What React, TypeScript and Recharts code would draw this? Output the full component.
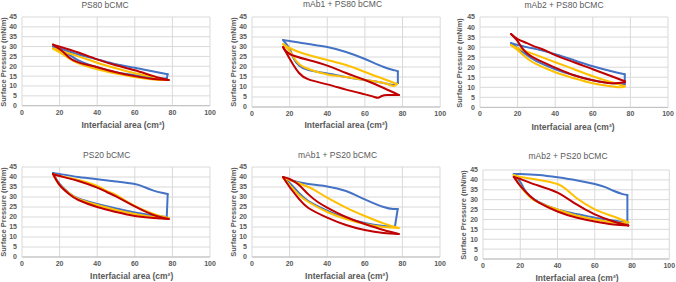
import React from 'react';
import { LineChart, Line, XAxis, YAxis, CartesianGrid } from 'recharts';

type Pt = [number, number];

// axis ticks
const xTicks = [0, 20, 40, 60, 80, 100];
const yTicks = [0, 5, 10, 15, 20, 25, 30, 35, 40, 45];

const titles = [
  'PS80 bCMC',
  'mAb1 + PS80 bCMC',
  'mAb2 + PS80 bCMC',
  'PS20 bCMC',
  'mAb1 + PS20 bCMC',
  'mAb2 + PS20 bCMC',
];

// [area, pressure]; each loop = [compression branch (left->right), expansion branch (right->left)]
const ps80Blue: Pt[][] = [
  [[16.5, 30], [25, 27.5], [30, 26], [40, 23.5], [50, 21], [60, 19.2], [70, 17.3], [77.5, 16]],
  [[77, 13.8], [70, 14], [60, 15.5], [50, 17], [40, 19.5], [30, 23], [24, 26.5], [16.5, 30]],
];
const ps80Yellow: Pt[][] = [
  [[16.5, 29], [20, 28], [30, 25], [40, 21.8], [50, 19], [60, 16.5], [70, 14.5], [77, 13]],
  [[77, 13], [70, 13.3], [60, 14.5], [50, 16.3], [40, 18.5], [30, 21.5], [25, 24], [20, 27], [16.5, 29]],
];
const ps80Red: Pt[][] = [
  [[16.5, 31], [25, 28.5], [30, 27], [40, 23.5], [50, 20.5], [60, 18], [70, 15], [78, 13]],
  [[78, 13], [70, 13.5], [60, 15], [50, 17], [40, 19.5], [30, 22], [25, 24.5], [21, 28], [16.5, 31]],
];

const mab1Ps80Blue: Pt[][] = [
  [[16.5, 33.5], [20, 33], [30, 31.5], [40, 30], [50, 27.5], [60, 24], [70, 20], [76, 18.3], [77.5, 17.8]],
  [[77.5, 12], [75, 11], [70, 12], [60, 13.5], [50, 15], [40, 16.8], [30, 18.5], [25, 20.8], [22, 24.5], [20, 29], [16.5, 33.5]],
];
const mab1Ps80Yellow: Pt[][] = [
  [[16.5, 31.5], [20, 29.5], [25, 27.5], [30, 26], [40, 23.5], [50, 21], [60, 17.5], [70, 14], [77, 11.5]],
  [[77, 11.5], [75, 10.5], [70, 12], [60, 13.5], [50, 15], [40, 16.2], [30, 19], [25, 21.5], [22, 25], [20, 28], [16.5, 31.5]],
];
const mab1Ps80Red: Pt[][] = [
  [[16.5, 30], [20, 26.5], [30, 23.5], [40, 20.7], [50, 17], [60, 13.5], [70, 9.5], [78, 6]],
  [[78, 6], [72, 6], [69, 5.5], [67, 4.6], [65, 5], [60, 6.3], [50, 8.7], [40, 11.3], [30, 13.8], [25, 17], [22, 21], [19.5, 25], [16.5, 30]],
];

const mab2Ps80Blue: Pt[][] = [
  [[16.5, 32], [25, 30], [30, 29], [40, 26.5], [50, 23.5], [60, 20.5], [70, 18], [77, 16.5]],
  [[77, 11.5], [70, 12], [60, 13.5], [50, 16], [40, 19], [30, 23], [25, 26], [20, 29.5], [16.5, 32]],
];
const mab2Ps80Yellow: Pt[][] = [
  [[16.5, 31], [20, 29.5], [30, 26], [40, 22.5], [50, 19], [60, 15.5], [70, 12.5], [77, 10.5]],
  [[77, 10.5], [75, 10], [70, 10.5], [60, 12], [50, 14.5], [40, 17.5], [30, 21.5], [25, 24.5], [20, 28.5], [16.5, 31]],
];
const mab2Ps80Red: Pt[][] = [
  [[16.5, 36.5], [20, 34], [25, 32], [30, 30], [35, 28.3], [40, 26], [50, 22.5], [60, 19], [70, 15.5], [77, 13]],
  [[77, 12.5], [70, 12], [60, 13.5], [50, 16], [40, 19.8], [30, 24], [25, 27], [22, 30], [20, 33], [16.5, 36.5]],
];

const ps20Blue: Pt[][] = [
  [[16.5, 42], [20, 41.5], [30, 40], [40, 38.9], [50, 37.8], [60, 36.5], [65, 35], [70, 33.2], [75, 32], [77.5, 31.5]],
  [[77, 20], [70, 20.8], [60, 22.3], [50, 24.3], [40, 26.5], [30, 29.3], [25, 32], [20, 36.5], [16.5, 42]],
];
const ps20Yellow: Pt[][] = [
  [[16.5, 41.5], [20, 40.5], [30, 38.5], [40, 35.5], [45, 33], [50, 31], [60, 25.5], [70, 21.5], [78, 19.5]],
  [[78, 19.5], [70, 20], [60, 21.5], [50, 23.5], [40, 26], [30, 29], [25, 32], [20, 36], [16.5, 41.5]],
];
const ps20Red: Pt[][] = [
  [[16.5, 41.5], [20, 40.5], [30, 38], [40, 34.7], [45, 32.5], [50, 30.3], [60, 25.3], [70, 21], [78, 19]],
  [[78, 19], [70, 19.5], [60, 20.5], [50, 22.5], [40, 25], [30, 28.5], [25, 31.5], [20, 36], [16.5, 41.5]],
];

const mab1Ps20Blue: Pt[][] = [
  [[16.5, 40], [20, 38.5], [30, 36.5], [40, 35.3], [50, 33], [60, 28.8], [70, 25], [75, 24], [77.5, 24]],
  [[76, 15], [70, 15.5], [60, 17], [50, 19.5], [40, 23.2], [30, 28], [25, 32], [20, 37], [16.5, 40]],
];
const mab1Ps20Yellow: Pt[][] = [
  [[16.5, 39.5], [20, 38.5], [30, 35], [35, 32.5], [40, 29.7], [50, 24.7], [60, 20.5], [70, 16.8], [78, 14.5]],
  [[78, 14.5], [70, 15], [60, 16.5], [50, 19], [40, 22.5], [30, 27.5], [25, 31], [20, 36], [16.5, 39.5]],
];
const mab1Ps20Red: Pt[][] = [
  [[16.5, 40], [20, 39], [25, 36], [30, 31.3], [35, 27.5], [40, 24.7], [50, 20], [60, 16.5], [70, 13.5], [78, 11.5]],
  [[78, 11.5], [70, 12], [60, 13.5], [50, 16], [40, 19.7], [30, 24.5], [25, 29], [20, 35], [16.5, 40]],
];

const mab2Ps20Blue: Pt[][] = [
  [[16.5, 43], [20, 43], [30, 42.5], [40, 41.3], [50, 39.8], [60, 37.9], [66, 36.2], [70, 34.5], [75, 32.8], [77.5, 32.4]],
  [[77.5, 18.3], [70, 19.5], [60, 20.9], [50, 22.8], [40, 25.1], [30, 28.8], [25, 32], [22, 35.5], [20, 39], [16.5, 43]],
];
const mab2Ps20Yellow: Pt[][] = [
  [[16.5, 42.5], [20, 41.5], [30, 40], [40, 37.9], [45, 35], [50, 31], [60, 25.1], [70, 21.5], [78, 18.5]],
  [[78, 18.5], [70, 18.5], [60, 20], [50, 22], [40, 25], [30, 28.5], [25, 31.5], [20, 37], [16.5, 42.5]],
];
const mab2Ps20Red: Pt[][] = [
  [[16.5, 41.5], [20, 40.5], [30, 37], [40, 33.6], [50, 27.7], [60, 22.6], [70, 19], [78, 17]],
  [[78, 17], [70, 17.5], [60, 19], [50, 21], [40, 24], [30, 28.5], [25, 32], [20, 37], [16.5, 41.5]],
];

const panelSeries: Pt[][][][] = [
  [ps80Blue, ps80Yellow, ps80Red],
  [mab1Ps80Blue, mab1Ps80Yellow, mab1Ps80Red],
  [mab2Ps80Blue, mab2Ps80Yellow, mab2Ps80Red],
  [ps20Blue, ps20Yellow, ps20Red],
  [mab1Ps20Blue, mab1Ps20Yellow, mab1Ps20Red],
  [mab2Ps20Blue, mab2Ps20Yellow, mab2Ps20Red],
];

const COLORS = ['#4472C4', '#FFC000', '#C00000'];
const FONT = '"Liberation Sans", Arial, sans-serif';

// plot-area boxes in page pixels, plus title / axis-label anchors
const layout = [
  { x0: 21.7, x1: 209.7, y0: 17.3, y1: 106, tx: 105, ty: 5, ylx: 4, xlx: 123, xly: 125 },
  { x0: 252.3, x1: 440.5, y0: 16.5, y1: 106.5, tx: 342.5, ty: 4, ylx: 234, xlx: 346, xly: 125 },
  { x0: 480, x1: 668, y0: 17.3, y1: 107.7, tx: 564, ty: 5, ylx: 459.5, xlx: 573, xly: 127 },
  { x0: 21.7, x1: 209.7, y0: 167, y1: 257, tx: 106.7, ty: 155, ylx: 4, xlx: 131.7, xly: 276 },
  { x0: 252, x1: 440, y0: 167, y1: 257, tx: 337.5, ty: 155, ylx: 234, xlx: 346.7, xly: 276 },
  { x0: 482.7, x1: 669, y0: 170, y1: 259, tx: 568, ty: 156, ylx: 464, xlx: 577, xly: 277.5 },
];

const YW = 30;
const XH = 14;
const MT = 4;
const MR = 7;

const toRows = (pts: Pt[]) => pts.map(([x, y]) => ({ x, y }));

function Panel({ idx }: { idx: number }) {
  const L = layout[idx];
  const series = panelSeries[idx];
  const w = L.x1 - L.x0 + YW + MR;
  const h = L.y1 - L.y0 + MT + XH;
  const tick = { fontSize: 7, fill: '#595959', fontWeight: 700, fontFamily: FONT };

  // split each loop into smooth branches plus a straight turn-around segment
  const segs: { key: string; rows: { x: number; y: number }[]; color: string; curve: 'natural' | 'linear' }[] = [];
  series.forEach(([up, down], i) => {
    segs.push({ key: `${i}u`, rows: toRows(up), color: COLORS[i], curve: 'natural' });
    segs.push({ key: `${i}t`, rows: toRows([up[up.length - 1], down[0]]), color: COLORS[i], curve: 'linear' });
    segs.push({ key: `${i}d`, rows: toRows(down), color: COLORS[i], curve: 'natural' });
  });

  return (
    <>
      <div
        style={{
          position: 'absolute', left: L.tx - 80, top: L.ty - 6, width: 160, textAlign: 'center',
          fontSize: 8.5, lineHeight: '12px', color: '#595959', fontFamily: FONT, whiteSpace: 'nowrap',
        }}
      >
        {titles[idx]}
      </div>
      <div style={{ position: 'absolute', left: L.x0 - YW, top: L.y0 - MT }}>
        <LineChart width={w} height={h} margin={{ top: MT, right: MR, bottom: 0, left: 0 }} style={{ overflow: 'visible' }}>
          <CartesianGrid stroke="#d9d9d9" strokeWidth={1} />
          <XAxis
            type="number"
            dataKey="x"
            domain={[0, 100]}
            ticks={xTicks}
            interval={0}
            height={XH}
            tick={tick}
            tickLine={false}
            tickSize={2}
            tickMargin={2}
            stroke="#bfbfbf"
          />
          <YAxis
            type="number"
            dataKey="y"
            domain={[0, 45]}
            ticks={yTicks}
            interval={0}
            width={YW}
            tick={tick}
            tickLine={false}
            axisLine={false}
            tickSize={3}
            tickMargin={2}
          />
          {segs.map((s) => (
            <Line
              key={s.key}
              data={s.rows}
              dataKey="y"
              type={s.curve}
              stroke={s.color}
              strokeWidth={2}
              strokeLinejoin="round"
              strokeLinecap="round"
              dot={false}
              activeDot={false}
              isAnimationActive={false}
            />
          ))}
        </LineChart>
      </div>
      <div
        style={{
          position: 'absolute', left: L.ylx - 60, top: (L.y0 + L.y1) / 2 - 5, width: 120, height: 10,
          transform: 'rotate(-90deg)', transformOrigin: '60px 5px', textAlign: 'center',
          fontSize: 7.5, lineHeight: '10px', fontWeight: 700, color: '#595959', fontFamily: FONT, whiteSpace: 'nowrap',
        }}
      >
        Surface Pressure (mN/m)
      </div>
      <div
        style={{
          position: 'absolute', left: L.xlx - 70, top: L.xly - 6, width: 140, textAlign: 'center',
          fontSize: 8.5, lineHeight: '12px', fontWeight: 700, color: '#595959', fontFamily: FONT, whiteSpace: 'nowrap',
        }}
      >
        Interfacial area (cm²)
      </div>
    </>
  );
}

export default function App() {
  return (
    <div style={{ position: 'absolute', left: 0, top: 0, width: 676, height: 282, background: '#fff' }}>
      {titles.map((_, i) => (
        <Panel key={i} idx={i} />
      ))}
    </div>
  );
}
